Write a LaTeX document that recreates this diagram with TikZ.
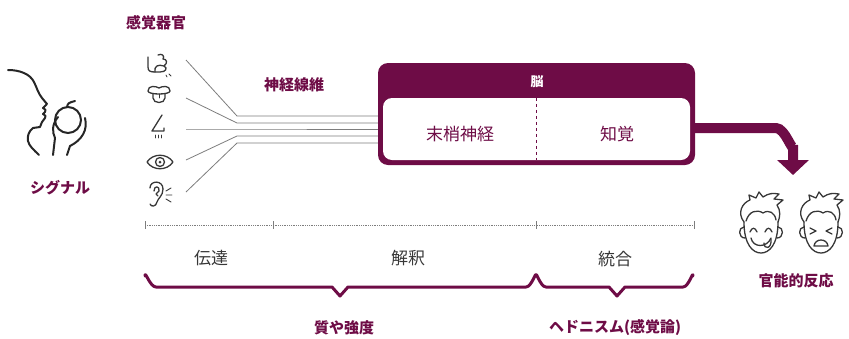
\documentclass[tikz,border=0pt]{standalone}
\usepackage{fontspec}
\setmainfont{Noto Sans CJK JP}
\usepackage{tikz}
\usetikzlibrary{arrows.meta,calc}

\definecolor{brand}{RGB}{110,12,70}
\definecolor{inkgray}{RGB}{55,55,55}
\definecolor{fibergray}{RGB}{125,125,125}

\tikzset{
  head/.style={font=\bfseries\fontsize{15}{18}\selectfont, text=brand, inner sep=0pt},
  plain/.style={font=\fontsize{17}{20}\selectfont, text=inkgray, inner sep=0pt},
  icon/.style={draw=inkgray, line width=1.3pt, line cap=round, line join=round},
  fiber/.style={draw=fibergray, line width=0.8pt},
  brace/.style={draw=brand, line width=3pt, line cap=round, line join=round},
  tick/.style={draw=fibergray, line width=0.7pt},
}

% outline of a boy's head, centred at the origin
\newcommand{\facehead}{%
  \draw[icon] (-17,-3) .. controls (-17,20) and (-8,28) .. (0,28)
    .. controls (8,28) and (17,20) .. (17,-3);
  \draw[icon] (-17,2) .. controls (-23,2) and (-23,13) .. (-16,13);
  \draw[icon] (17,2) .. controls (23,2) and (23,13) .. (16,13);
  \draw[icon] (-17,-3) .. controls (-24,-12) and (-19,-22) .. (-11,-25) -- (-12,-30) -- (-5,-27)
    -- (-2,-33) -- (2,-28) .. controls (8,-32) and (12,-32) .. (18,-31) -- (13,-26) -- (22,-25)
    -- (16,-20) .. controls (20,-14) and (19,-8) .. (17,-3);
  \draw[icon] (-15,-4) .. controls (-12,-14) and (-4,-16) .. (2,-12)
    .. controls (8,-16) and (14,-12) .. (15,-5);
}

\begin{document}
\begin{tikzpicture}[x=1pt,y=-1pt]
\useasboundingbox (0,0) rectangle (849,338);

% signal: face smelling an apple
\draw[draw=black!85, line width=2pt, line cap=round, line join=round]
  (8,70) .. controls (20,70) and (30,74) .. (34,82) .. controls (37,88) and (38,93) .. (42,98)
  -- (47,104) -- (43,108) .. controls (46,110) .. (45,112) -- (43,114) .. controls (46,116) .. (45,118)
  -- (42,122) -- (40,127) .. controls (36,128) .. (33,128) .. controls (29,131) and (27,136) .. (28,141)
  .. controls (29,146) and (34,150) .. (39,155);
\draw[draw=black!85, line width=2pt] (68,120) circle (13);
\draw[draw=black!85, line width=2pt, line cap=round] (67,107) .. controls (68,103) .. (75,101);
\draw[draw=black!85, line width=2pt, line cap=round, line join=round]
  (58,117) .. controls (52,124) and (52,132) .. (55,138) -- (53,155);
\draw[draw=black!85, line width=2pt, line cap=round, line join=round]
  (85,118) .. controls (88,130) and (82,140) .. (70,146) -- (67,155);
\node[head] (signal) at (60,188) {シグナル};

% sense organs
\node[head] (sense) at (156,23) {感覚器官};
% touch
\draw[icon] (148,57) -- (148,67) .. controls (148,71) and (150,72) .. (155,72) -- (160,72)
  .. controls (166,72) and (168,68) .. (164,66) .. controls (168,63) and (167,59) .. (163,59)
  .. controls (165,56) and (162,53) .. (158,55);
\draw[icon] (155,72) .. controls (154,66) and (158,64) .. (164,66);
\draw[icon, line width=0.8pt] (166,75) -- (167,77) (169,74) -- (171,76);
% taste
\draw[icon] (148,91) .. controls (148,85) and (156,86) .. (159,88) .. controls (162,86) and (170,85) .. (170,91)
  .. controls (170,95) and (148,95) .. (148,91);
\draw[icon] (153,94) -- (153,98) .. controls (153,104) and (165,104) .. (165,98) -- (165,94);
\draw[icon, line width=0.9pt] (159,94) -- (159,98);
% smell
\draw[icon] (162,115) -- (152,131) -- (164,131) -- (164,128);
\draw[icon, line width=0.9pt] (155,135) -- (155,138) (158,135) -- (158,138) (161,135) -- (161,138);
% sight
\draw[icon] (147,162) .. controls (153,153) and (167,153) .. (173,162) .. controls (167,171) and (153,171) .. (147,162);
\draw[icon] (160,162) circle (4.5);
\fill[inkgray] (160,162) circle (1.5);
% hearing
\draw[icon] (150,188) .. controls (150,180) and (163,180) .. (163,189) .. controls (163,196) and (158,198) .. (157,202)
  .. controls (156,207) and (151,207) .. (150,204);
\draw[icon] (154,191) .. controls (154,185) and (160,186) .. (159,191) -- (156,194) -- (158,196);
\draw[icon, line width=0.9pt] (166,191) -- (171,188) (166,195) -- (172,195) (166,199) -- (171,202);

% nerve fibres
\node[head] (nerve) at (294,85) {神経線維};
\coordinate (s1) at (186,60);  \coordinate (b1) at (237,116);
\coordinate (s2) at (186,98);  \coordinate (b2) at (237,123);
\coordinate (s3) at (186,129); \coordinate (b3) at (237,129);
\coordinate (s4) at (186,160); \coordinate (b4) at (237,136);
\coordinate (s5) at (186,192); \coordinate (b5) at (237,143);

% brain
\node[fill=brand, rounded corners=10pt, minimum width=317pt, minimum height=102pt, inner sep=0pt] (brain) at (536.5,114) {};
\node[fill=white, rounded corners=9pt, minimum width=307pt, minimum height=62pt, inner sep=0pt] (cortex) at (536.5,129) {};
\draw[brand, dashed, line width=0.7pt] (cortex.north) -- (cortex.south);
\node[font=\bfseries\fontsize{13}{15}\selectfont, text=white, inner sep=0pt] (nou) at (537,82) {脳};
\node[plain, text=brand] (periph) at (460,134) {末梢神経};
\node[plain, text=brand] (percept) at (617,134) {知覚};

\foreach \i in {1,...,5}
  \draw[fiber] (s\i) -- (b\i) -- (b\i -| brain.west);

% response
\draw[brand, line width=10pt, -{Triangle[length=15pt,width=31pt]}]
  ($(brain.east)+(-2,14)$) -- (776,128) to[out=0,in=-90] (793,145) -- (793,175);
\begin{scope}[shift={(761,225)}]
  \facehead
  \draw[icon] (-11,7) .. controls (-9,2) and (-6,2) .. (-4,7);
  \draw[icon] (4,7) .. controls (6,2) and (9,2) .. (11,7);
  \draw[icon] (-10,13) .. controls (-8,23) and (6,23) .. (10,13);
  \draw[icon] (3,18) .. controls (3,25) and (11,24) .. (10,14);
\end{scope}
\begin{scope}[shift={(821,225)}]
  \facehead
  \draw[icon] (-11,3) -- (-5,6) -- (-11,9);
  \draw[icon] (11,3) -- (5,6) -- (11,9);
  \draw[icon] (-7,21) .. controls (-6,13) and (6,13) .. (7,21) -- cycle;
\end{scope}
\node[head] (react) at (796,281) {官能的反応};

% time line
\coordinate (t0) at (145,225);
\coordinate (t1) at (273,225);
\coordinate (t2) at (536,225);
\coordinate (t3) at (694,225);
\draw[fibergray, line width=0.7pt, dash pattern=on 0.6pt off 1.2pt] (t0) -- (t3);
\foreach \t in {t0,t1,t2,t3}
  \draw[tick] ($(\t)+(0,-4)$) -- ($(\t)+(0,4)$);
\node[plain] (relay) at (211,258) {伝達};
\node[plain] (interp) at (408,258) {解釈};
\node[plain] (integ) at (615,259) {統合};

% braces
\draw[brace] (145,276) to[out=90,in=180] (156,287) -- (332,287) -- (340,296) -- (348,287)
  -- (526,287) to[out=0,in=90] (536,276);
\draw[brace] (536,276) to[out=90,in=180] (546,287) -- (609,287) -- (617,296) -- (625,287)
  -- (683,287) to[out=0,in=90] (693,276);
\node[head] (quality) at (344,328) {質や強度};
\node[head] (hedon) at (615,328) {ヘドニスム(感覚論)};
\end{tikzpicture}
\end{document}
